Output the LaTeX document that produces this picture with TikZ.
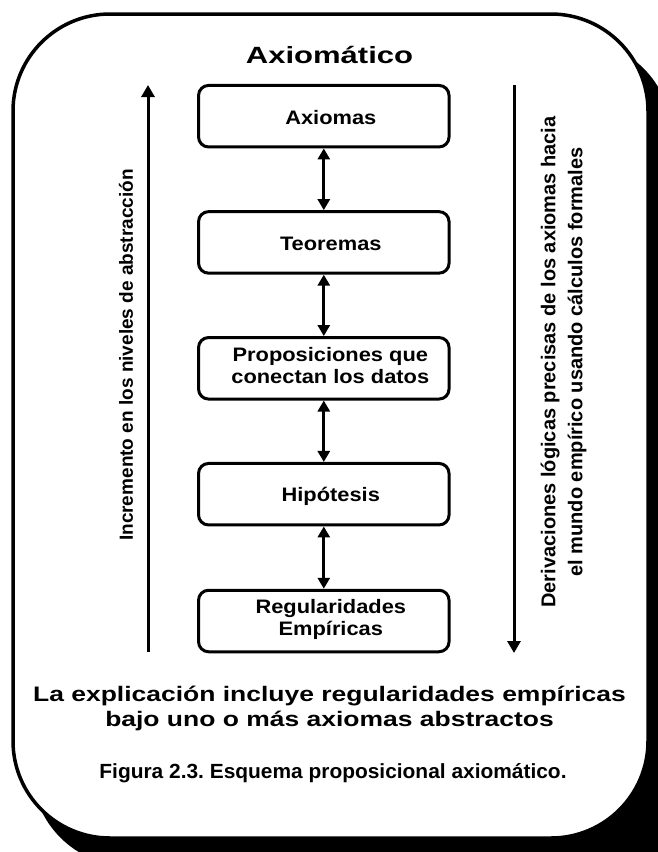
\documentclass[tikz,border=0pt]{standalone}
\usepackage{fontspec}
\setmainfont{Liberation Sans}
\newfontfamily\titlefont[FakeStretch=1.32]{Liberation Sans}
\newfontfamily\boxfont[FakeStretch=1.12]{Liberation Sans}
\newfontfamily\bottomfont[FakeStretch=1.26]{Liberation Sans}
\newfontfamily\capfont[FakeStretch=1.02]{Liberation Sans}
\newfontfamily\sidefont[FakeStretch=1.0]{Liberation Sans}
\usetikzlibrary{arrows.meta}
\frenchspacing
\begin{document}
\begin{tikzpicture}[x=1pt,y=-1pt,
  stepbox/.style={draw, line width=3pt, rounded corners=10pt, minimum width=250.5pt, minimum height=61.5pt, inner sep=0pt, fill=white},
  boxtxt/.style={font=\boxfont\bfseries\fontsize{19.5}{21.6}\selectfont, align=center, inner sep=0pt},
  link/.style={line width=3pt, {Triangle[width=12pt,length=11pt]}-{Triangle[width=12pt,length=11pt]}},
  side/.style={line width=3pt, -{Triangle[width=13pt,length=12pt]}},
  rottxt/.style={rotate=90, font=\sidefont\bfseries\fontsize{19}{27}\selectfont, align=center, inner sep=0pt}
]
\useasboundingbox (0,0) rectangle (658,852);
% shadow
\fill[black, rounded corners=97pt] (32,40) rectangle (672,866);
\fill[black] (560,760) rectangle (670,870);
% main frame
\draw[line width=3.5pt, fill=white, rounded corners=97pt] (13,14) rectangle (648,838);

% title
\node[font=\titlefont\bfseries\fontsize{23.5}{28}\selectfont, anchor=base, inner sep=0pt] (title) at (329.5,63) {Axiomático};

% boxes
\node[stepbox] (ax) at (323.8,116.2) {};
\node[stepbox] (te) at (323.8,242.4) {};
\node[stepbox] (pr) at (323.8,368.3) {};
\node[stepbox] (hi) at (323.8,494.2) {};
\node[stepbox] (re) at (323.8,621) {};

\node[boxtxt, anchor=base] (tax) at ([shift={(7,8)}]ax.center) {Axiomas};
\node[boxtxt, anchor=base] (tte) at ([shift={(7,8.3)}]te.center) {Teoremas};
\node[boxtxt, anchor=base] (tpr) at ([shift={(6.5,15)}]pr.center) {Proposiciones que\\conectan los datos};
\node[boxtxt, anchor=base] (thi) at ([shift={(7,7.5)}]hi.center) {Hipótesis};
\node[boxtxt, anchor=base] (tre) at ([shift={(7,14)}]re.center) {Regularidades\\Empíricas};

% links
\draw[link] (ax.south) -- (te.north);
\draw[link] (te.south) -- (pr.north);
\draw[link] (pr.south) -- (hi.north);
\draw[link] (hi.south) -- (re.north);

% side arrows
\coordinate (lb) at (148,652);
\coordinate (lt) at (148,85);
\draw[side] (lb) -- (lt);
\coordinate (rt) at (514,85);
\coordinate (rb) at (514,653);
\draw[side] (rt) -- (rb);

\node[rottxt] (ltxt) at (126,355) {Incremento en los niveles de abstracción};
\node[rottxt, font=\sidefont\bfseries\fontsize{20}{27}\selectfont] (rtxt) at (563.5,362) {Derivaciones lógicas precisas de los axiomas hacia\\el mundo empírico usando cálculos formales};

% bottom texts
\node[font=\bottomfont\bfseries\fontsize{21}{25}\selectfont, align=center, anchor=base, inner sep=0pt] (expl) at (329.5,726.7) {La explicación incluye regularidades empíricas\\bajo uno o más axiomas abstractos};
\node[font=\capfont\bfseries\fontsize{20.5}{24}\selectfont, anchor=base, inner sep=0pt] (cap) at (333,778) {Figura 2.3. Esquema proposicional axiomático.};
\end{tikzpicture}
\end{document}
